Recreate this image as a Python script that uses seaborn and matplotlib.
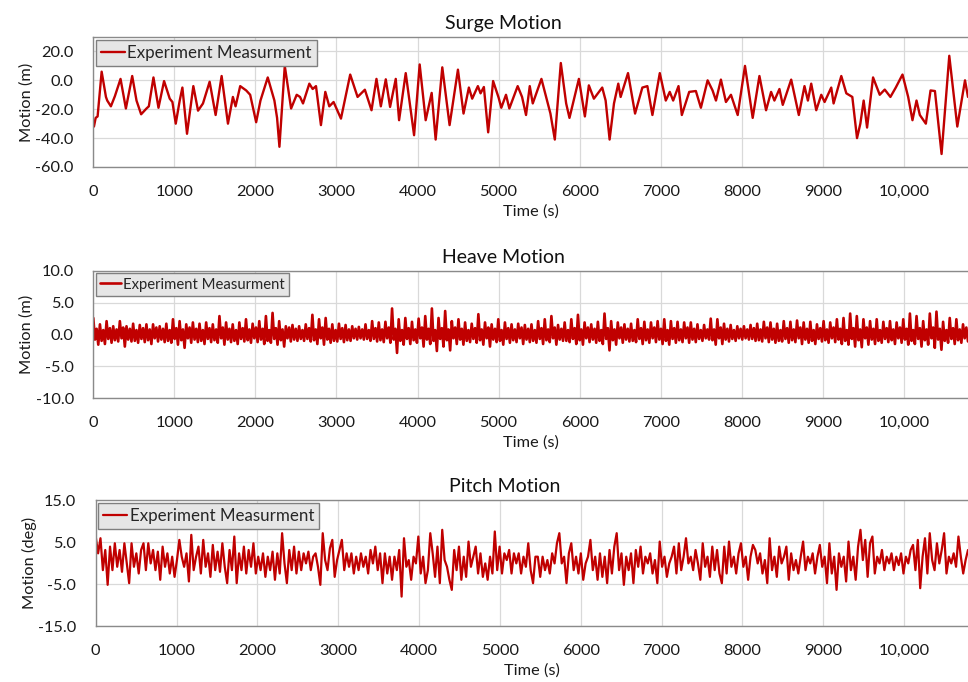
import numpy as np
import pandas as pd
import matplotlib
matplotlib.use('Agg')
import matplotlib.pyplot as plt
import seaborn as sns
from matplotlib.ticker import FixedLocator, FixedFormatter

sns.set_theme(style='white')
plt.rcParams['font.family'] = ['Lato', 'DejaVu Sans']

LINE_LABEL = 'Experiment Measurment'
titles = ['Surge Motion', 'Heave Motion', 'Pitch Motion']
ylabels = ['Motion (m)', 'Motion (m)', 'Motion (deg)']
x_ticks = [0, 1000, 2000, 3000, 4000, 5000, 6000, 7000, 8000, 9000, 10000]
x_ticklabels = ['0', '1000', '2000', '3000', '4000', '5000', '6000', '7000', '8000', '9000', '10,000']
T_END = 10790

surge_t = [8, 29, 53, 103, 156, 172, 217, 266, 336, 402,
           480, 533, 590, 656, 685, 742, 804, 873, 943, 976,
           1017, 1066, 1099, 1156, 1234, 1292, 1353, 1435, 1509, 1583,
           1661, 1722, 1755, 1812, 1886, 1935, 2009, 2062, 2152, 2234,
           2267, 2296, 2362, 2440, 2509, 2550, 2587, 2665, 2706, 2747,
           2808, 2862, 2911, 2964, 3055, 3169, 3260, 3350, 3432, 3493,
           3547, 3608, 3661, 3731, 3772, 3854, 3957, 4026, 4100, 4174,
           4223, 4305, 4395, 4498, 4567, 4633, 4674, 4744, 4777, 4818,
           4871, 4932,
           5000, 5033, 5091, 5132, 5235, 5289, 5338, 5384, 5421, 5528,
           5598, 5639, 5693, 5767, 5833, 5874, 5990, 6064, 6113, 6175,
           6278, 6320, 6369, 6423, 6476, 6505, 6596, 6683, 6773, 6835,
           6897, 6988, 7062, 7111, 7153, 7219, 7260, 7351, 7433, 7495,
           7578, 7639, 7681, 7742, 7804, 7866, 7949, 8039, 8134, 8217,
           8299, 8361, 8402, 8464, 8505, 8609, 8703, 8773, 8815, 8856,
           8918, 8980, 9021, 9103, 9132, 9227, 9289, 9363, 9421, 9462,
           9503, 9545, 9619, 9701, 9763, 9833, 9899, 9982, 10052, 10105,
           10155, 10196, 10270, 10328, 10382, 10464, 10559, 10658, 10753, 10790]
surge_v = [-32, -26, -25, 6, -11.5, -14, -18, -11, 1, -19.5,
           3, -14, -23.5, -19.5, -18, 2, -19, -0.5, -12.7, -15,
           -30, -14, -5, -37, -4, -21, -16, -1, -24, 3,
           -30, -11.5, -18, -4, -7, -10, -29, -14, 2, -14,
           -26, -46, 10, -19.5, -10, -11.5, -16, -2.3, -6, -4,
           -31, -8, -18, -15, -26.5, 4, -11.5, -6.5, -20.7, 1,
           -18, 0.7, -18.4, 1, -27.6, 5, -38, 11, -27.6, -8.7,
           -41, 9, -31, 7.4, -23, -5, -12.7, -4, -9, -4.6,
           -36, -0.5,
           -12, -19, -10, -19.5, -4, -11.5, -24, -4, -16, 1,
           -14, -23, -41, 12, -16, -26, 1, -25, -3.5, -12.7,
           -5, -14, -41, -16, -2.3, -11.5, 5, -23, -5, -4,
           -24, 5, -14, -8, -14, -4, -24, -8, -7.4, -19,
           0, -7, -14, 0.5, -15, -10, -24, 10, -26, 3,
           -20.7, -8, -14, -6, -17, 0.5, -24, -4, -14, -2.3,
           -20.7, -10, -15, -5, -16, 3, -9, -11.5, -40, -30,
           -14, -32.7, 2, -10, -6.4, -11.5, -5, 4, -11.5, -27.6,
           -14, -24, -30, -7, -7.4, -51, 17, -32, 0, -11.5]

heave_v = [
    2.6, -0.8, 0.9, -1.6, 1.6, -1.0, 0.7, -1.5, 2.1, -0.7, 1.0, -1.3,
    1.3, -0.9, 0.8, -1.1, 2.1, -0.6, 1.1, -1.9, 1.3, -0.8, 0.9, -1.1,
    1.7, -1.0, 0.7, -1.3, 1.5, -0.7, 1.0, -1.2, 1.6, -0.9, 0.8, -1.5,
    1.6, -0.6, 1.1, -1.1, 1.3, -0.8, 0.9, -1.2, 1.7, -1.0, 0.7, -1.3,
    2.4, -0.7, 1.0, -1.6, 2.1, -0.9, 0.8, -2.1, 1.6, -0.6, 1.1, -1.3,
    1.9, -0.8, 0.9, -1.2, 1.7, -1.0, 0.7, -1.5, 1.9, -0.7, 1.0, -1.2,
    1.6, -0.9, 0.8, -1.3, 2.9, -0.6, 1.1, -1.6, 1.9, -0.8, 0.9, -1.2,
    1.6, -1.0, 0.7, -1.5, 1.9, -0.7, 1.0, -1.1, 2.4, -0.9, 0.8, -1.3,
    1.7, -0.6, 1.1, -1.2, 2.1, -0.8, 0.9, -1.5, 2.9, -1.0, 0.7, -1.3,
    3.4, -0.7, 1.0, -1.6, 2.1, -0.9, 0.8, -1.9, 1.3, -0.6, 1.1, -1.1,
    1.5, -0.8, 0.9, -1.0, 1.3, -0.7, 0.7, -1.0, 1.6, -0.7, 1.0, -1.1,
    3.1, -0.9, 0.8, -1.5, 2.4, -0.6, 1.1, -1.6, 2.6, -0.8, 0.9, -1.3,
    1.6, -1.0, 0.7, -1.1, 1.7, -0.7, 1.0, -1.2, 1.5, -0.9, 0.8, -1.0,
    1.3, -0.6, 0.9, -0.8, 1.2, -0.6, 0.8, -0.8, 1.6, -0.7, 0.7, -1.0,
    2.1, -0.7, 1.0, -1.1, 1.9, -0.9, 0.8, -1.2, 2.0, -0.6, 1.1, -1.3,
    4.1, -0.8, 0.9, -2.9, 2.4, -1.0, 0.7, -1.6, 2.6, -0.7, 1.0, -1.5,
    2.0, -0.9, 0.8, -1.3, 2.5, -0.6, 1.1, -1.9, 2.9, -0.8, 0.9, -1.5,
    4.1, -1.0, 0.7, -2.6, 2.6, -0.7, 1.0, -1.9, 3.7, -0.9, 0.8, -2.5,
    2.1, -0.6, 1.1, -1.5, 2.4, -0.8, 0.9, -1.6, 1.9, -1.0, 0.7, -1.2,
    1.7, -0.7, 1.0, -1.3, 3.2, -0.9, 0.8, -1.6, 1.9, -0.6, 1.1, -1.9,
    1.6, -0.8, 0.9, -1.2, 2.4, -1.0, 0.7, -1.6, 1.9, -0.7, 1.0, -1.3,
    1.6, -0.9, 0.8, -1.2, 1.7, -0.6, 1.1, -1.5, 1.5, -0.8, 0.9, -1.2,
    1.6, -1.0, 0.7, -1.3, 2.1, -0.7, 1.0, -1.5, 2.4, -0.9, 0.8, -1.2,
    2.9, -0.6, 1.1, -1.6, 1.5, -0.8, 0.9, -1.0, 1.9, -1.0, 0.7, -1.2,
    2.4, -0.7, 1.0, -1.5, 3.1, -0.9, 0.8, -1.6, 1.9, -0.6, 1.1, -1.2,
    1.6, -0.8, 0.9, -1.3, 2.0, -1.0, 0.7, -1.5, 3.3, -0.7, 1.0, -2.5,
    2.1, -0.9, 0.8, -1.6, 1.9, -0.6, 1.1, -1.3, 1.6, -0.8, 0.9, -1.1,
    1.7, -1.0, 0.7, -1.2, 2.4, -0.7, 1.0, -1.5, 2.0, -0.9, 0.8, -1.3,
    1.9, -0.6, 1.1, -1.2, 2.1, -0.8, 0.9, -1.5, 2.4, -1.0, 0.7, -1.6,
    2.1, -0.7, 1.0, -1.3, 2.0, -0.9, 0.8, -1.2, 1.9, -0.6, 1.1, -1.3,
    1.9, -0.8, 0.9, -1.2, 1.6, -0.7, 0.7, -1.0, 1.5, -0.6, 0.8, -0.8,
    2.5, -0.9, 0.8, -1.6, 2.4, -0.6, 1.1, -1.5, 1.7, -0.8, 0.9, -1.1,
    1.5, -0.7, 0.7, -1.0, 1.3, -0.6, 0.9, -0.8, 1.3, -0.6, 0.8, -0.8,
    1.5, -0.7, 1.0, -1.0, 1.7, -0.9, 0.8, -1.1, 2.0, -0.6, 1.1, -1.2,
    1.9, -0.8, 0.9, -1.3, 1.7, -1.0, 0.7, -1.1, 2.1, -0.7, 1.0, -1.3,
    2.0, -0.9, 0.8, -1.2, 2.2, -0.6, 1.1, -1.5, 1.9, -0.8, 0.9, -1.3,
    2.0, -1.0, 0.7, -1.5, 1.6, -0.7, 1.0, -1.1, 2.1, -0.9, 0.8, -1.3,
    1.9, -0.6, 1.1, -1.2, 2.4, -0.8, 0.9, -1.5, 2.6, -1.0, 0.7, -1.6,
    3.3, -0.7, 1.0, -1.9, 2.9, -0.9, 0.8, -2.0, 2.4, -0.6, 1.1, -1.6,
    2.1, -0.8, 0.9, -1.5, 2.4, -1.0, 0.7, -1.3, 2.0, -0.7, 1.0, -1.2,
    2.1, -0.9, 0.8, -1.5, 1.9, -0.6, 1.1, -1.3, 2.4, -0.8, 0.9, -1.6,
    3.3, -1.0, 0.7, -1.5, 2.9, -0.7, 1.0, -1.9, 2.1, -0.9, 0.8, -1.6,
    3.3, -0.6, 1.1, -2.1, 3.6, -0.8, 0.9, -2.4, 2.0, -1.0, 0.7, -1.3,
    2.6, -0.7, 1.0, -1.5, 2.4, -0.9, 0.8, -1.3, 1.6, -0.6, 1.1, -1.1]

pitch_v = [6.3, 2.3, 5.9, -1.7, 3.1, -5.2, 3.9, -1.7, 4.7, -0.9,
           3.1, -2.1, 4.7, -0.1, -4.8, 4.7, -0.9, 2.3, -2.5, 3.1,
           4.7, -1.7, 4.7, -0.1, 3.1, -1.7, 2.7, -4.0, 3.9, -0.9,
           2.3, -2.5, 1.5, -3.3, 0.7, 5.5, 1.5, -0.9, 2.3, -4.4,
           6.7, -1.7, 1.5, 3.9, -2.5, 5.5, -0.9, 2.3, -3.3, 4.3,
           -1.7, 2.7, -2.1, 4.7, -0.9, -4.8, 3.1, -1.7, 6.3, -4.8,
           2.3, -1.7, 3.9, -2.5, 3.1, -0.9, 4.7, -2.5, 1.5, -1.7,
           2.3, -3.3, 1.5, -1.7, 2.7, -4.0, 2.3, -2.5, 7.1, -0.1,
           -4.8, 3.1, -1.7, 3.9, -2.5, 2.7, -1.7, 2.3, -0.1, 2.7,
           -1.7, 1.5,
           2.3, -0.9, -5.2, 7.1, 0.7, -1.7, 3.5, 5.5, -3.3, 0.7,
           3.1, 5.5, -1.7, 2.3, -0.9, 2.3, -2.5, 1.5, -1.7, 2.3,
           -0.9, 1.5, -2.5, 3.1, -0.1, 3.9, -1.7, 2.3, -4.8, 2.3,
           -2.5, 1.5, -4.0, 1.5, -1.7, 3.1, -8.0, 5.9, -0.9, 0.7,
           -4.0, 1.5, -0.1, 6.3, -2.5, 1.5, -4.8, -1.7, 7.1, 2.3,
           -3.3, 3.9, -4.8, 7.9, 0.7, -0.9, -4.0, -6.4, 3.1, -1.7,
           3.9, -4.0, 1.5, -3.3, 5.1, -0.9, 1.5, 3.9, -2.5, 2.3,
           -3.3, -0.1, -4.0, 1.5, -2.5, 7.5, -1.7, 3.9, -2.5, 2.3,
           0.7, 3.1, -2.5, 2.3, -0.1, 2.3, -2.5, 1.5, -0.9, 4.7,
           -1.7, -4.8, 1.5,
           1.5, -3.3, 1.5, -1.7, 0.7, -2.5, 2.3, -0.1, 4.7, 7.1,
           -0.1, 1.5, -4.8, 2.3, 4.7, -1.7, 1.5, -2.5, 2.3, -4.0,
           -0.1, 1.5, 5.5, -1.7, 1.5, -4.0, 2.3, -3.3, 1.5, -4.8,
           3.1, -2.5, 3.9, 7.1, -1.7, 2.3, -5.2, 1.5, -1.7, 2.3,
           -4.8, 3.1, -0.9, 3.9, -2.5, 1.5, -0.1, 2.3, -2.5, 0.7,
           -4.8, 5.1, -0.9, 1.5, -3.3, -0.1, 1.5, 3.9, -2.5, 4.7,
           -1.7, 1.5, 5.9, -0.1, 1.5, -1.7, 3.1, -0.1, -4.0, 4.7,
           -0.9, 1.5, -3.3, 3.9, -1.7, 3.1, -2.5, -4.8, 3.9, -2.5,
           5.1, -0.9, 1.5, -2.5, 2.3, 4.7, -0.9, 1.5, -4.0, 1.5,
           4.3, 3.1,
           -0.1, 2.3, -2.5, 0.7, -4.8, 5.9, -1.7, 1.5, -3.3, 3.9,
           -0.1, 1.5, 3.9, -4.0, 2.3, -1.7, 0.7, -2.5, 1.5, 5.1,
           -1.7, 1.5, -0.1, 2.3, -2.5, 1.5, 4.3, -0.9, 1.5, -4.8,
           4.7, -2.5, 1.5, -6.4, 2.3, -0.9, 1.5, -4.4, 5.1, -1.7,
           1.5, -4.0, 3.9, 7.9, 0.7, 5.5, -3.3, 4.7, 6.3, -2.5,
           1.5, -0.1, 3.1, -1.7, 1.5, -0.1, 2.3, -1.7, 1.5, -0.5,
           2.3, -2.5, 1.5, -0.1, 3.1, 4.3, -1.7, 5.5, -6.0, 1.5,
           5.9, -2.5, 7.1, 0.7, -1.7, 4.7, -0.1, 3.1, 7.1, -2.5,
           1.5, -0.1, 2.3, -0.9, 6.3, 1.5, -2.5, 0.7, 3.1]

heave_t = np.linspace(0, T_END, len(heave_v))
pitch_t = np.linspace(0, T_END, len(pitch_v))

surge_df = pd.DataFrame({'Time (s)': surge_t, 'Motion': surge_v})
heave_df = pd.DataFrame({'Time (s)': heave_t, 'Motion': heave_v})
pitch_df = pd.DataFrame({'Time (s)': pitch_t, 'Motion': pitch_v})

y_limits = [(-60, 30), (-10, 10), (-15, 15)]
y_ticks = [[-60, -40, -20, 0, 20], [-10, -5, 0, 5, 10], [-15, -5, 5, 15]]
legend_sizes = [12.2, 10.7, 12.2]
line_widths = [1.7, 1.9, 1.6]

W, H = 968, 682
fig = plt.figure(figsize=(W / 100, H / 100), dpi=100)
boxes = [(93.3, 37, 167), (93.3, 271, 398), (95.7, 500, 626)]
axes = []
for (l, top, bot) in boxes:
    axes.append(fig.add_axes([l / W, 1 - bot / H, (W - l) / W, (bot - top) / H]))

RED = '#c00000'
TXT = '#1a1a1a'
for i, (ax, df) in enumerate(zip(axes, [surge_df, heave_df, pitch_df])):
    sns.lineplot(data=df, x='Time (s)', y='Motion', ax=ax, color=RED,
                 linewidth=line_widths[i], label=LINE_LABEL, estimator=None,
                 sort=False)
    ax.set_xlim(0, T_END)
    ax.set_ylim(*y_limits[i])
    ax.xaxis.set_major_locator(FixedLocator(x_ticks))
    ax.xaxis.set_major_formatter(FixedFormatter(x_ticklabels))
    ax.set_yticks(y_ticks[i])
    ax.set_yticklabels([f'{v:.1f}' for v in y_ticks[i]])
    ax.grid(True, color='#d9d9d9', linewidth=0.9)
    ax.set_axisbelow(True)
    ax.tick_params(axis='both', length=0, labelsize=11.8, colors=TXT)
    ax.tick_params(axis='x', pad=13)
    ax.tick_params(axis='y', pad=14)
    for s in ['left', 'bottom', 'top']:
        ax.spines[s].set_visible(True)
        ax.spines[s].set_color('#8a8a8a')
        ax.spines[s].set_linewidth(1.0)
    ax.spines['right'].set_visible(False)
    ax.set_xlabel('Time (s)', fontsize=11.8, labelpad=4, color=TXT)
    ax.set_ylabel(ylabels[i], fontsize=11.8, labelpad=1, color=TXT)
    ax.set_title(titles[i], fontsize=14, x=0.469, pad=6, color='#111111')
    leg = ax.legend(loc='upper left', fontsize=legend_sizes[i], frameon=True,
                    fancybox=False, facecolor='#e6e6e6', edgecolor='#7f7f7f',
                    framealpha=1, borderaxespad=0.15, borderpad=0.3,
                    handlelength=1.4, handletextpad=0.15)
    leg.get_frame().set_linewidth(1.0)

fig.savefig('out.png', dpi=100)
